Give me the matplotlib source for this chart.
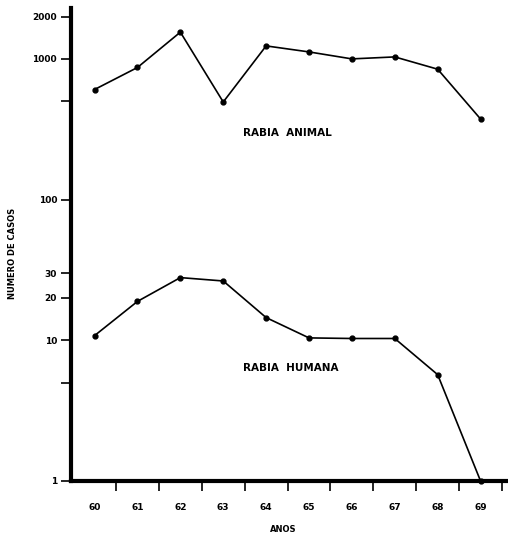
import matplotlib
matplotlib.use("Agg")
import matplotlib.pyplot as plt
import numpy as np

years = ["60", "61", "62", "63", "64", "65", "66", "67", "68", "69"]
rabia_animal = [606, 869, 1549, 494, 1237, 1121, 1000, 1033, 845, 374]
rabia_humana = [10.8, 18.9, 27.9, 26.4, 14.5, 10.4, 10.3, 10.3, 5.7, 1.0]
ytick_vals = [1, 5, 10, 20, 30, 100, 500, 1000, 2000]
ytick_labels = ["1", "", "10", "20", "30", "100", "", "1000", "2000"]

plt.rcParams['font.family'] = ['DejaVu Sans']

fig = plt.figure(figsize=(5.08, 5.36), dpi=100)
ax = fig.add_axes([71/508, 55/536, 1 - 71/508, (481 - 8)/536])

x = np.arange(len(years))
ax.plot(x, rabia_animal, color='black', lw=1.2, marker='o', ms=3.5, clip_on=False, zorder=3)
ax.plot(x, rabia_humana, color='black', lw=1.2, marker='o', ms=3.5, clip_on=False, zorder=3)

ax.set_yscale('log')
ax.set_ylim(1, 2300)
ax.set_xlim(-0.55, 9.64)

ax.yaxis.set_major_locator(matplotlib.ticker.FixedLocator(ytick_vals))
ax.yaxis.set_minor_locator(matplotlib.ticker.NullLocator())
ax.set_yticklabels(ytick_labels)
ax.tick_params(axis='y', which='major', direction='out', length=7, width=1.2,
               pad=3, labelsize=6.5)
for lab in ax.get_yticklabels():
    lab.set_fontweight('bold')

# x: tick marks at boundaries, labels at year positions
ax.set_xticks(x + 0.5)
ax.set_xticklabels([])
ax.tick_params(axis='x', which='major', direction='out', length=7, width=1.2)
ax.set_xticks(x, minor=True)
ax.set_xticklabels(years, minor=True)
ax.tick_params(axis='x', which='minor', length=0, pad=16, labelsize=6.5)
for lab in ax.get_xticklabels(minor=True):
    lab.set_fontweight('bold')

for s in ['top', 'right']:
    ax.spines[s].set_visible(False)
for s in ['left', 'bottom']:
    ax.spines[s].set_linewidth(3)

ax.text(4.49, 296, "RABIA  ANIMAL", fontsize=7.5, fontweight='bold',
        ha='center', va='center')
ax.text(4.58, 6.4, "RABIA  HUMANA", fontsize=7.5, fontweight='bold',
        ha='center', va='center')

fig.text(13/508, 1 - 253/536, "NUMERO DE CASOS", rotation=90, fontsize=6,
         fontweight='bold', ha='center', va='center')
fig.text(283/508, 1 - 530/536, "ANOS", fontsize=6, fontweight='bold',
         ha='center', va='center')

fig.savefig("out.png", dpi=100)
